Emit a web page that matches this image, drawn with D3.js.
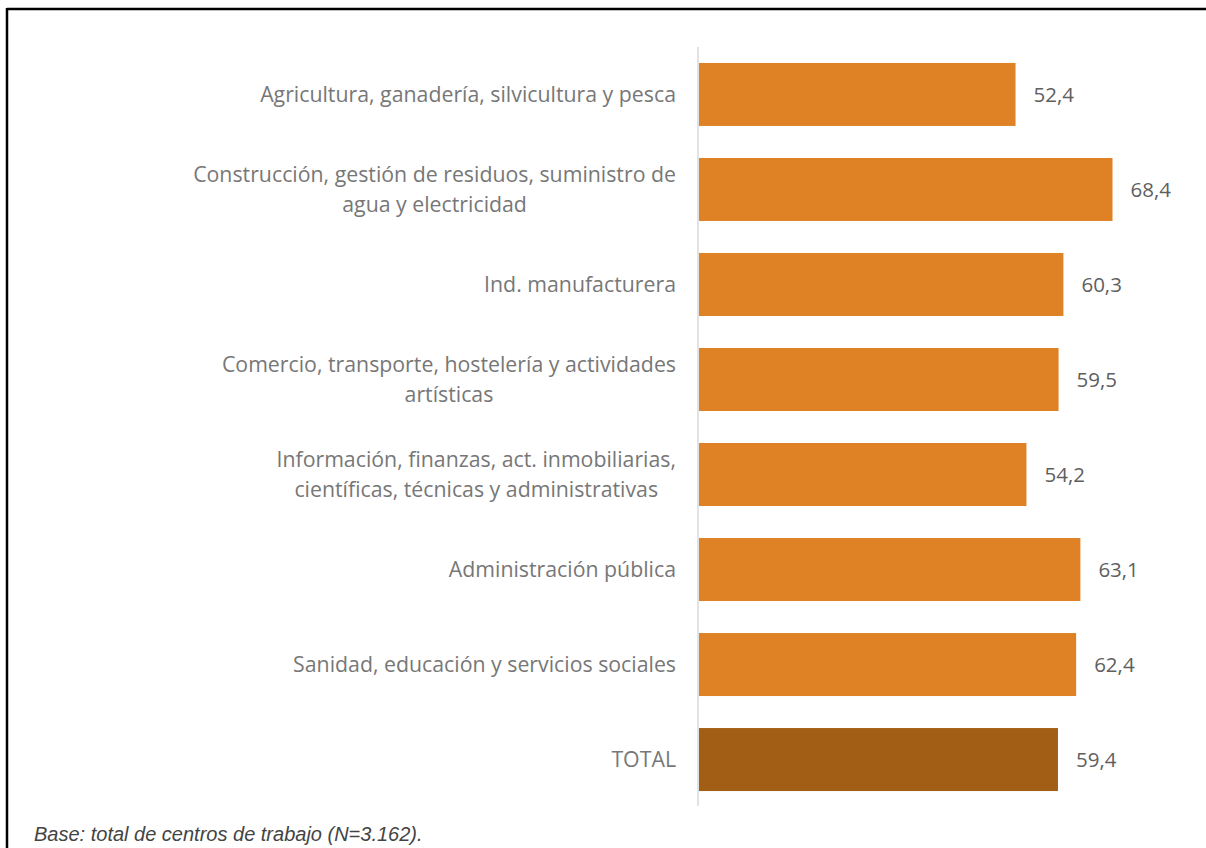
<!DOCTYPE html>
<html>
<head>
<meta charset="utf-8">
<script src="https://cdn.jsdelivr.net/npm/d3@7/dist/d3.min.js"></script>
<style>
  html, body { margin: 0; padding: 0; background: #fff; }
  svg { display: block; }
</style>
</head>
<body>
<svg id="chart" width="1206" height="848"></svg>
<script>
// Sector labels (each entry is a list of lines)
const categories = [
  ["Agricultura, ganadería, silvicultura y pesca"],
  ["Construcción, gestión de residuos, suministro de", "agua y electricidad"],
  ["Ind. manufacturera"],
  ["Comercio, transporte, hostelería y actividades", "artísticas"],
  ["Información, finanzas, act. inmobiliarias,", "científicas, técnicas y administrativas"],
  ["Administración pública"],
  ["Sanidad, educación y servicios sociales"],
  ["TOTAL"]
];
const values = [52.4, 68.4, 60.3, 59.5, 54.2, 63.1, 62.4, 59.4];
const footnote = "Base: total de centros de trabajo (N=3.162).";

const svg = d3.select("#chart");
const W = 1206, H = 848;

// frame lines (top and left)
svg.append("line").attr("x1", 7).attr("x2", W).attr("y1", 9).attr("y2", 9)
  .attr("stroke", "#000").attr("stroke-width", 2.5);
svg.append("line").attr("x1", 7).attr("x2", 7).attr("y1", 8).attr("y2", H)
  .attr("stroke", "#000").attr("stroke-width", 2.5);

const x0 = 698;
const x = d3.scaleLinear().domain([0, 100]).range([x0, x0 + 606]);
const y = d3.scaleBand().domain(d3.range(categories.length)).range([47, 807]).paddingInner(0.337).paddingOuter(0.168);

const orange = "#df8226", dark = "#a25e15";

// bars
svg.append("g").selectAll("rect").data(values).join("rect")
  .attr("x", x(0) + 1)
  .attr("y", (d, i) => y(i))
  .attr("width", d => x(d) - x(0) - 1)
  .attr("height", y.bandwidth())
  .attr("fill", (d, i) => i === values.length - 1 ? dark : orange);

// category axis line
svg.append("line").attr("x1", x0).attr("x2", x0).attr("y1", 47).attr("y2", 806)
  .attr("stroke", "#d9d9d9").attr("stroke-width", 1.5);

// value labels
svg.append("g").selectAll("text").data(values).join("text")
  .attr("x", d => x(d) + 18)
  .attr("y", (d, i) => y(i) + y.bandwidth() / 2)
  .attr("dy", "0.35em")
  .attr("font-family", "Open Sans")
  .attr("font-size", 20.5)
  .attr("fill", "#5f5f5f")
  .text(d => d3.format(".1f")(d).replace(".", ","));

// category labels, multi-line labels are centred on each other and right-aligned as a block
const labelRight = 676, lineH = 30;
const lg = svg.append("g");
categories.forEach((lines, i) => {
  const cy = y(i) + y.bandwidth() / 2;
  const g = lg.append("g");
  const texts = lines.map((ln, j) => g.append("text")
    .attr("font-family", "Open Sans")
    .attr("font-size", 21.3)
    .attr("fill", "#777777")
    .attr("y", cy + (j - (lines.length - 1) / 2) * lineH)
    .attr("dy", "0.35em")
    .text(ln));
  const widths = texts.map(t => t.node().getComputedTextLength());
  const maxW = d3.max(widths);
  texts.forEach(t => t.attr("text-anchor", "middle").attr("x", labelRight - maxW / 2));
});

// footnote
svg.append("text")
  .attr("x", 34).attr("y", 841)
  .attr("font-family", "Liberation Sans")
  .attr("font-style", "italic")
  .attr("font-size", 20)
  .attr("fill", "#444")
  .text(footnote);
</script>
</body>
</html>
